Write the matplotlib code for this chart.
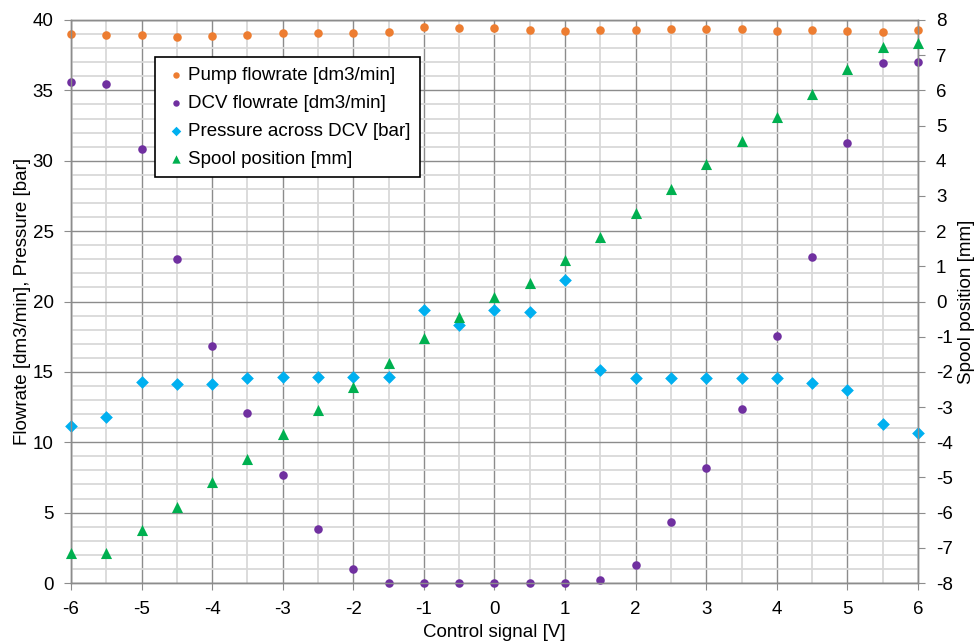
import numpy as np
import matplotlib
matplotlib.use("Agg")
import matplotlib.pyplot as plt
from matplotlib.ticker import MultipleLocator

plt.rcParams['font.family'] = ['Liberation Sans', 'DejaVu Sans']
plt.rcParams['axes.unicode_minus'] = False

control = [-6, -5.5, -5, -4.5, -4, -3.5, -3, -2.5, -2, -1.5, -1, -0.5, 0,
           0.5, 1, 1.5, 2, 2.5, 3, 3.5, 4, 4.5, 5, 5.5, 6]

pump_flow = [39.0, 38.96, 38.91, 38.81, 38.86, 38.96, 39.08, 39.08, 39.08, 39.15,
             39.48, 39.41, 39.41, 39.29, 39.24, 39.29, 39.29, 39.36, 39.36, 39.36,
             39.24, 39.29, 39.24, 39.17, 39.29]

dcv_flow = [35.57, 35.48, 30.81, 23.04, 16.86, 12.06, 7.70, 3.84, 0.97, 0.02,
            0.02, 0.02, 0.02, 0.02, 0.02, 0.21, 1.28, 4.36, 8.19, 12.34,
            17.55, 23.16, 31.26, 36.92, 37.04]

pressure = [11.15, 11.77, 14.26, 14.14, 14.14, 14.59, 14.66, 14.66, 14.66, 14.64,
            19.37, 18.31, 19.37, 19.23, 21.53, 15.11, 14.59, 14.59, 14.54, 14.59,
            14.54, 14.19, 13.74, 11.30, 10.68]

spool = [-7.16, -7.16, -6.49, -5.83, -5.12, -4.48, -3.77, -3.08, -2.44, -1.76,
         -1.05, -0.43, 0.12, 0.53, 1.18, 1.84, 2.51, 3.20, 3.90, 4.56,
         5.25, 5.90, 6.60, 7.24, 7.36]

labels = ["Pump flowrate [dm3/min]", "DCV flowrate [dm3/min]",
          "Pressure across DCV [bar]", "Spool position [mm]"]
colors = ["#ED7D31", "#7030A0", "#00B0F0", "#00B050"]

FS = 13.5

fig = plt.figure(figsize=(9.79, 6.44), dpi=100)
ax = fig.add_axes([71/979, 1-583/644, (918-71)/979, (583-20)/644])
ax2 = ax.twinx()

ax.set_xlim(-6, 6)
ax.set_ylim(0, 40)
ax2.set_ylim(-8, 8)

ax.xaxis.set_major_locator(MultipleLocator(1))
ax.xaxis.set_minor_locator(MultipleLocator(0.5))
ax.yaxis.set_major_locator(MultipleLocator(5))
ax.yaxis.set_minor_locator(MultipleLocator(1))
ax2.yaxis.set_major_locator(MultipleLocator(1))

ax.grid(which='minor', color='#d9d9d9', linewidth=1.3, zorder=0)
ax.grid(which='major', color='#8c8c8c', linewidth=1.0, zorder=0)
ax.set_axisbelow(True)

for a in (ax, ax2):
    for s in a.spines.values():
        s.set_color('#8c8c8c')
        s.set_linewidth(1.0)
    a.tick_params(which='major', length=5, color='#8c8c8c', labelsize=FS)
    a.tick_params(which='minor', length=0)
ax.tick_params(axis='x', pad=8)
ax.tick_params(axis='y', pad=7.5)
ax2.tick_params(axis='y', pad=8)

h1 = ax.scatter(control, pump_flow, s=38, marker='o', color=colors[0], zorder=3, linewidths=0, clip_on=False)
h2 = ax.scatter(control, dcv_flow, s=38, marker='o', color=colors[1], zorder=3, linewidths=0, clip_on=False)
h3 = ax.scatter(control, pressure, s=42, marker='D', color=colors[2], zorder=3, linewidths=0, clip_on=False)
h4 = ax2.scatter(control, spool, s=64, marker='^', color=colors[3], zorder=3, linewidths=0, clip_on=False)

ax.set_xlabel("Control signal [V]", fontsize=FS, labelpad=4)
ax.set_ylabel("Flowrate [dm3/min], Pressure [bar]", fontsize=FS, labelpad=1)
ax2.set_ylabel("Spool position [mm]", fontsize=FS, labelpad=4)

leg = ax2.legend([h1, h2, h3, h4], labels, loc='upper left',
                 bbox_to_anchor=((155-71)/847, 1-(57-20)/563),
                 fontsize=FS, frameon=True, fancybox=False, framealpha=1,
                 edgecolor='black', markerscale=0.75, handletextpad=0.05,
                 handlelength=1.2, borderpad=0.5, labelspacing=0.58,
                 borderaxespad=0)
leg.get_frame().set_linewidth(1.2)

fig.savefig("out.png", dpi=100)
